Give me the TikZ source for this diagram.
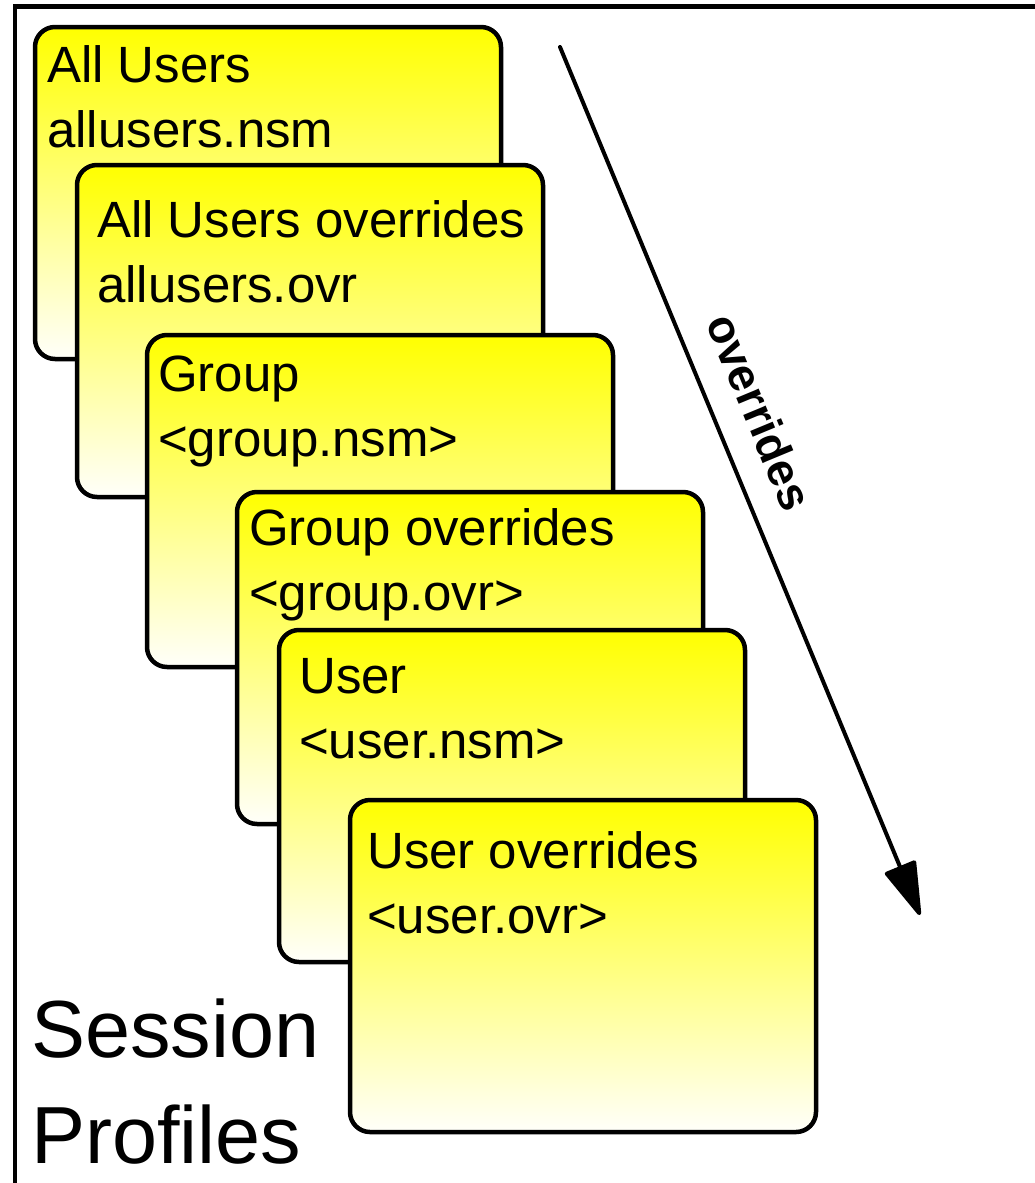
\documentclass[tikz,border=0pt]{standalone}
\usepackage{fontspec}
\setmainfont{Liberation Sans}
\usetikzlibrary{arrows.meta}

\begin{document}
\begin{tikzpicture}[x=1pt, y=-1pt,
  card/.style={draw, line width=4.5pt, rounded corners=20pt, top color=yellow, bottom color=yellow!2,
    minimum width=466pt, minimum height=332pt, anchor=north west, inner sep=0pt, outer sep=0pt},
  cardtext/.style={anchor=base west, align=left, inner sep=0pt, font=\fontsize{51}{65}\selectfont}]
\useasboundingbox (0,0) rectangle (1035,1183);
\draw [line width=4.5pt] (1035,6.5) -- (15,6.5) -- (15,1183);

% cards, back to front; text anchored at the baseline of its last line
\node [card] (allusers) at (35,27) {};
\node [cardtext] (allusers-t) at (47,147) {All Users\\allusers.nsm};
\node [card] (allusersovr) at (77,165) {};
\node [cardtext] (allusersovr-t) at (97,302) {All Users overrides\\allusers.ovr};
\node [card] (group) at (147,335) {};
\node [cardtext] (group-t) at (158,456) {Group\\<group.nsm>};
\node [card] (groupovr) at (237,492) {};
\node [cardtext] (groupovr-t) at (249,610) {Group overrides\\<group.ovr>};
\node [card] (user) at (279,630) {};
\node [cardtext] (user-t) at (299,758) {User\\<user.nsm>};
\node [card] (userovr) at (350,800) {};
\node [cardtext] (userovr-t) at (367,933) {User overrides\\<user.ovr>};

\node [anchor=base west, align=left, inner sep=0pt, font=\fontsize{81}{106}\selectfont] (title) at (31,1163) {Session\\Profiles};

\coordinate (ovstart) at (560,47);
\coordinate (ovend) at (920,915);
\draw [line width=4pt, line cap=round, -{Triangle[length=58pt, width=34pt, round]}] (ovstart) -- node [pos=0.44, sloped, anchor=south, inner xsep=0pt, inner ysep=26pt, font=\bfseries\fontsize{46}{46}\selectfont] (ovlabel) {overrides} (ovend);
\end{tikzpicture}
\end{document}
